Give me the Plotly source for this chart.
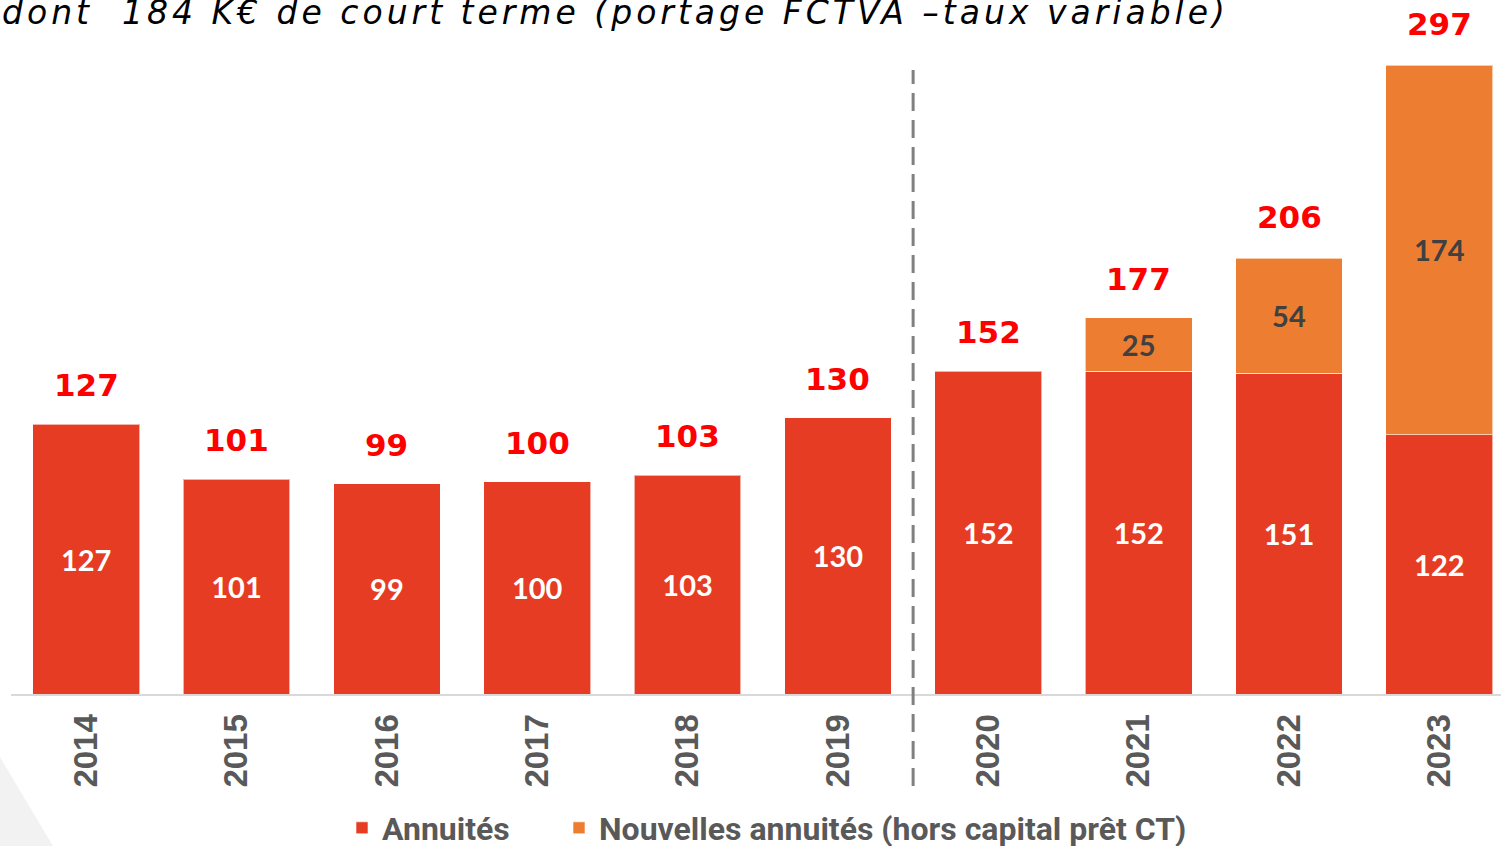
import plotly.graph_objects as go

years = ["2014", "2015", "2016", "2017", "2018", "2019", "2020", "2021", "2022", "2023"]
annuites = [127, 101, 99, 100, 103, 130, 152, 152, 151, 122]
nouvelles = [None, None, None, None, None, None, None, 25, 54, 174]
totals = [127, 101, 99, 100, 103, 130, 152, 177, 206, 297]
title_text = "dont  184 K€ de court terme (portage FCTVA –taux variable)"
series_names = ["Annuités", "Nouvelles annuités (hors capital prêt CT)"]

RED = "#E63C23"
ORANGE = "#ED7D31"
GRAY = "#595959"
LEGEND_FONT = dict(family="Roboto", size=32, color=GRAY, weight="bold")

fig = go.Figure()
fig.add_trace(go.Bar(
    x=years, y=annuites, name=series_names[0], legend="legend",
    marker=dict(color=RED, line=dict(color="rgba(255,255,255,0.6)", width=1)),
    text=[str(v) for v in annuites], textposition="inside", insidetextanchor="middle",
    textangle=0, constraintext="none",
    textfont=dict(family="Lato", size=29, color="white", weight="bold"),
))
fig.add_trace(go.Bar(
    x=years, y=nouvelles, name=series_names[1], legend="legend2",
    marker=dict(color=ORANGE, line=dict(color="rgba(255,255,255,0.6)", width=1)),
    text=["" if v is None else str(v) for v in nouvelles], textposition="inside",
    insidetextanchor="middle", textangle=0, constraintext="none",
    textfont=dict(family="Lato", size=29, color="#404040", weight="bold"),
))

for i, t in enumerate(totals):
    fig.add_annotation(x=i, y=t, text=str(t), showarrow=False, xref="x", yref="y",
                       yanchor="middle", yshift=39,
                       font=dict(family="DejaVu Sans", size=31, color="#FF0000", weight="bold"))

# dashed separator between 2019 and 2020
fig.add_shape(type="line", xref="x", yref="paper", x0=5.5, x1=5.5, y0=-0.1326, y1=0.899,
              line=dict(color="#808080", width=3, dash="18px,9px"))

# light background triangle bottom-left
fig.add_shape(type="path", xref="paper", yref="paper", layer="below",
              path="M -0.0074 -0.0908 L 0.0282 -0.219 L -0.0074 -0.219 Z",
              fillcolor="#F2F2F2", line=dict(width=0))

fig.add_annotation(text='<span style="letter-spacing:4px">' + title_text + '</span>',
                   xref="paper", yref="paper", x=-0.0074, y=1,
                   xanchor="left", yanchor="middle", yshift=-12, showarrow=False,
                   font=dict(family="DejaVu Sans", size=33, color="black", style="italic"))

fig.update_layout(
    width=1501, height=846,
    margin=dict(l=11, r=0, t=0, b=152, autoexpand=False),
    barmode="stack", bargap=0.29,
    plot_bgcolor="white", paper_bgcolor="white",
    showlegend=True,
    legend=dict(orientation="h", xref="container", yref="container", x=342/1501, y=18/846,
                xanchor="left", yanchor="middle", font=LEGEND_FONT,
                bgcolor="rgba(0,0,0,0)", itemclick=False),
    legend2=dict(orientation="h", xref="container", yref="container", x=559/1501, y=18/846,
                 xanchor="left", yanchor="middle", font=LEGEND_FONT,
                 bgcolor="rgba(0,0,0,0)", itemclick=False),
    xaxis=dict(type="category", range=[-0.5, 9.41], showgrid=False, tickangle=-90,
               showline=True, linecolor="#D9D9D9", linewidth=2, ticks="",
               ticklabelstandoff=5, automargin=False,
               tickfont=dict(family="Liberation Sans", size=33, color=GRAY, weight="bold")),
    yaxis=dict(range=[0, 326.6], visible=False, showgrid=False, zeroline=False,
               automargin=False),
)

fig.write_html("out.html", config={"displayModeBar": False},
               post_script="document.body.style.margin='0px';")
